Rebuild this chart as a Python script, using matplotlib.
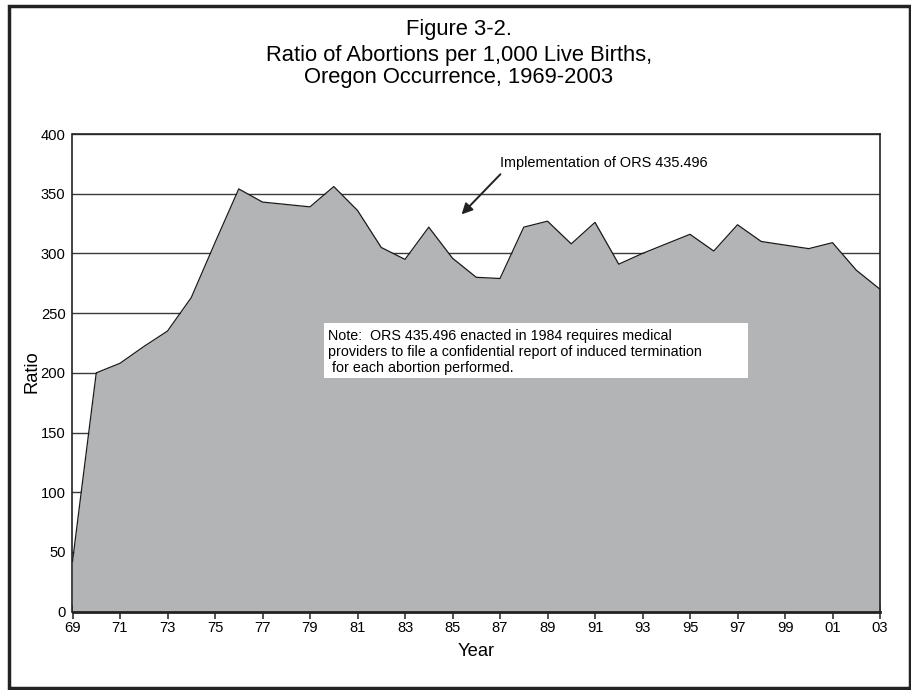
import matplotlib
matplotlib.use("Agg")
import matplotlib.pyplot as plt
from matplotlib.patches import Rectangle

plt.rcParams['font.family'] = ['Liberation Sans', 'DejaVu Sans']

years = list(range(1969, 2004))
ratios = [42, 200, 208, 222, 235, 263, 309, 354, 343, 341, 339, 356, 336, 305,
          295, 322, 296, 280, 279, 322, 327, 308, 326, 291, 300, 308, 316, 302,
          324, 310, 307, 304, 309, 286, 270]
tick_years = list(range(1969, 2004, 2))
tick_labels = ['69', '71', '73', '75', '77', '79', '81', '83', '85', '87', '89',
               '91', '93', '95', '97', '99', '01', '03']
y_ticks = [0, 50, 100, 150, 200, 250, 300, 350, 400]

title_lines = ['Figure 3-2.', 'Ratio of Abortions per 1,000 Live Births,',
               'Oregon Occurrence, 1969-2003']
note_text = ("Note:  ORS 435.496 enacted in 1984 requires medical\n"
             "providers to file a confidential report of induced termination\n"
             " for each abortion performed.")
arrow_text = 'Implementation of ORS 435.496'

W, H = 912, 690
fig = plt.figure(figsize=(W / 100, H / 100), dpi=100)
ax = fig.add_axes([72.5 / W, 1 - 611.7 / H, 807.5 / W, 477.7 / H])

for yv in y_ticks[1:]:
    ax.axhline(yv, color='#3a3a3a', lw=1.0, zorder=1)

ax.fill_between(years, ratios, 0, color='#b3b4b6', lw=0, zorder=2)
ax.plot(years, ratios, color='#1a1a1a', lw=0.9, zorder=3)

ax.set_xlim(1969, 2003)
ax.set_ylim(0, 400)
ax.set_xticks(tick_years)
ax.set_xticklabels(tick_labels, fontsize=10.6)
ax.set_yticks(y_ticks)
ax.set_yticklabels([str(v) for v in y_ticks], fontsize=10.6)
ax.tick_params(axis='x', direction='inout', length=10, width=1.1, color='#222', pad=2)
ax.tick_params(axis='y', length=0, pad=5)

for side in ['left', 'right', 'top']:
    ax.spines[side].set_linewidth(1.2)
    ax.spines[side].set_color('#222')
ax.spines['bottom'].set_linewidth(2.0)
ax.spines['bottom'].set_color('#222')
for s in ax.spines.values():
    s.set_zorder(5)

ax.set_xlabel('Year', fontsize=13.2)
ax.xaxis.set_label_coords(0.5003, -0.066)
ax.set_ylabel('Ratio', fontsize=13.2)
ax.yaxis.set_label_coords(-0.040, 0.502)

# note box
bx0, bx1 = (324 - 72.5) / 807.5, (748 - 72.5) / 807.5
by0, by1 = (611.7 - 378) / 477.7, (611.7 - 322.7) / 477.7
ax.add_patch(Rectangle((bx0, by0), bx1 - bx0, by1 - by0, transform=ax.transAxes,
                       facecolor='white', edgecolor='none', zorder=4))
ax.text((328 - 72.5) / 807.5, (611.7 - 352) / 477.7, note_text, transform=ax.transAxes,
        fontsize=10.3, ha='left', va='center', linespacing=1.2, zorder=6)

# arrow annotation
ax.annotate('', xy=(1985.3, 331), xytext=(1987.1, 368),
            arrowprops=dict(arrowstyle='-|>', color='#222', lw=1.4, mutation_scale=16),
            zorder=6)
ax.text(1987.0, 376, arrow_text, fontsize=10.45, ha='left', va='center', zorder=6)

# title
tx = 459 / W
for line, yc in zip(title_lines, [30, 55, 78]):
    fig.text(tx, 1 - yc / H, line, fontsize=15.8, ha='center', va='center')

# outer frame
fig.patches.append(Rectangle((9 / W, 1 - 688 / H), 901 / W, 682 / H,
                             transform=fig.transFigure, fill=False,
                             edgecolor='#222', lw=2.5))

fig.savefig('out.png', dpi=100)
